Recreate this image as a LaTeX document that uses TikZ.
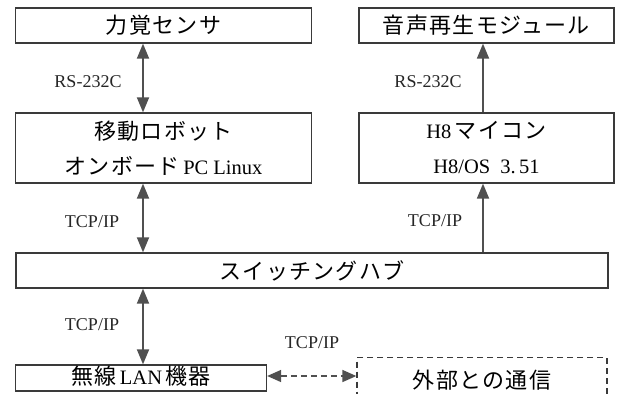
\documentclass[tikz,border=0pt]{standalone}
\usepackage{fontspec}
\setmainfont{Liberation Serif}
\newfontfamily\jp[LetterSpace=6]{Noto Sans CJK JP}
\usetikzlibrary{arrows.meta}
\definecolor{linec}{HTML}{3A3A3A}
\definecolor{arrc}{HTML}{505050}
\tikzset{
  box/.style={draw=linec, line width=1.3pt, inner sep=0pt, align=center,
    font=\fontsize{20.5}{35}\selectfont},
  dbox/.style={box, dashed, dash pattern=on 6pt off 4pt},
  conn/.style={draw=arrc, line width=1.8pt},
  biarrow/.style={conn, {Triangle[length=15pt,width=12pt]}-{Triangle[length=15pt,width=12pt]}},
  uparrow/.style={conn, -{Triangle[length=15pt,width=12pt]}},
  dasharrow/.style={conn, line width=1.5pt, dash pattern=on 6pt off 4pt,
    {Triangle[length=14pt,width=12pt]}-{Triangle[length=14pt,width=12pt]}},
  lbl/.style={inner sep=0pt, font=\fontsize{18}{20}\selectfont, text=black!85}
}
\newcommand{\jt}[1]{{\jp\fontsize{22}{35}\selectfont #1}}
\begin{document}
\begin{tikzpicture}[x=1pt,y=-1pt]
\clip (0,0) rectangle (620,393);
\fill[white] (0,0) rectangle (620,393);
% boxes
\node[box, minimum width=296pt, minimum height=35pt] (force) at (163.5,25.5) {\jt{力覚センサ}};
\node[box, minimum width=296pt, minimum height=70pt] (robot) at (163.5,148)
  {\jt{移動ロボット}\\\jt{オンボード}\,PC Linux};
\node[box, minimum width=255pt, minimum height=35pt] (sound) at (486.5,25.5) {\jt{音声再生モジュール}};
\node[box, minimum width=255pt, minimum height=70pt] (h8) at (486.5,148)
  {H8\,\jt{マイコン}\\H8/OS\ \ 3.\,51};
\node[box, minimum width=592pt, minimum height=35pt] (hub) at (312,270.5) {\jt{スイッチングハブ}};
\node[box, minimum width=251pt, minimum height=26pt, text height=16pt, text depth=4pt] (wlan) at (141,378)
  {\jt{無線}\,LAN\,\jt{機器}};
\node[dbox, minimum width=250pt, minimum height=46pt, anchor=north] (ext) at (482,357) {};
\node at (482,380) (exttext) {\jt{外部との通信}};
% connectors
\draw[biarrow] (143,0 |- force.south) -- (143,0 |- robot.north);
\draw[uparrow] (483,0 |- h8.north) -- (483,0 |- sound.south);
\draw[biarrow] (143,0 |- robot.south) -- (143,0 |- hub.north);
\draw[uparrow] (483,0 |- hub.north) -- (483,0 |- h8.south);
\draw[biarrow] (143,0 |- hub.south) -- (143,0 |- wlan.north);
\draw[dasharrow] (wlan.east |- 0,376) -- (ext.west |- 0,376);
% labels
\node[lbl] (l1) at (88,82) {RS-232C};
\node[lbl] (l2) at (428,82) {RS-232C};
\node[lbl] (l3) at (92,222) {TCP/IP};
\node[lbl] (l4) at (435,221) {TCP/IP};
\node[lbl] (l5) at (92,325) {TCP/IP};
\node[lbl] (l6) at (312,343) {TCP/IP};
\end{tikzpicture}
\end{document}
